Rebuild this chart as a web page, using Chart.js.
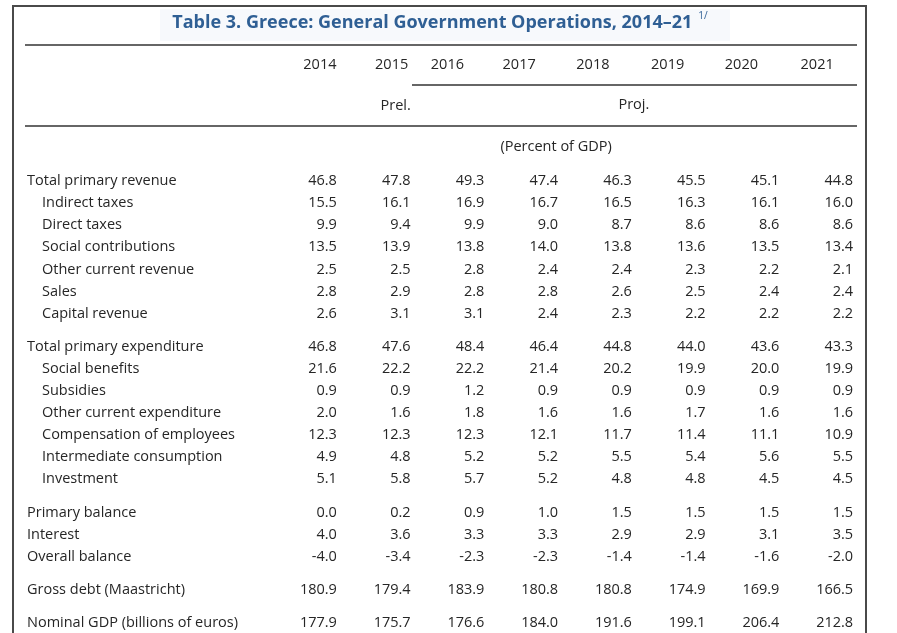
<!DOCTYPE html>
<html>
<head>
<meta charset="utf-8">
<script src="https://cdn.jsdelivr.net/npm/chart.js@4/dist/chart.umd.min.js"></script>
<style>
  html, body { margin: 0; padding: 0; background: #fff; }
  #wrap { width: 897px; height: 633px; }
</style>
</head>
<body>
<div id="wrap"><canvas id="table-chart" width="897" height="633"></canvas></div>
<script>
// column headers
const years = ['2014', '2015', '2016', '2017', '2018', '2019', '2020', '2021'];
const subHeads = ['Prel.', 'Proj.'];
const unitLabel = '(Percent of GDP)';
const titleText = 'Table 3. Greece: General Government Operations, 2014\u201321';
const titleNote = '1/';

// revenue block
const revenueLabels = ['Total primary revenue', 'Indirect taxes', 'Direct taxes', 'Social contributions',
  'Other current revenue', 'Sales', 'Capital revenue'];
const revenueValues = [
  [46.8, 47.8, 49.3, 47.4, 46.3, 45.5, 45.1, 44.8],
  [15.5, 16.1, 16.9, 16.7, 16.5, 16.3, 16.1, 16.0],
  [9.9, 9.4, 9.9, 9.0, 8.7, 8.6, 8.6, 8.6],
  [13.5, 13.9, 13.8, 14.0, 13.8, 13.6, 13.5, 13.4],
  [2.5, 2.5, 2.8, 2.4, 2.4, 2.3, 2.2, 2.1],
  [2.8, 2.9, 2.8, 2.8, 2.6, 2.5, 2.4, 2.4],
  [2.6, 3.1, 3.1, 2.4, 2.3, 2.2, 2.2, 2.2]
];

// expenditure block
const expenditureLabels = ['Total primary expenditure', 'Social benefits', 'Subsidies', 'Other current expenditure',
  'Compensation of employees', 'Intermediate consumption', 'Investment'];
const expenditureValues = [
  [46.8, 47.6, 48.4, 46.4, 44.8, 44.0, 43.6, 43.3],
  [21.6, 22.2, 22.2, 21.4, 20.2, 19.9, 20.0, 19.9],
  [0.9, 0.9, 1.2, 0.9, 0.9, 0.9, 0.9, 0.9],
  [2.0, 1.6, 1.8, 1.6, 1.6, 1.7, 1.6, 1.6],
  [12.3, 12.3, 12.3, 12.1, 11.7, 11.4, 11.1, 10.9],
  [4.9, 4.8, 5.2, 5.2, 5.5, 5.4, 5.6, 5.5],
  [5.1, 5.8, 5.7, 5.2, 4.8, 4.8, 4.5, 4.5]
];

// balances
const balanceLabels = ['Primary balance', 'Interest', 'Overall balance'];
const balanceValues = [
  [0.0, 0.2, 0.9, 1.0, 1.5, 1.5, 1.5, 1.5],
  [4.0, 3.6, 3.3, 3.3, 2.9, 2.9, 3.1, 3.5],
  [-4.0, -3.4, -2.3, -2.3, -1.4, -1.4, -1.6, -2.0]
];

const debtLabels = ['Gross debt (Maastricht)'];
const debtValues = [[180.9, 179.4, 183.9, 180.8, 180.8, 174.9, 169.9, 166.5]];

const gdpLabels = ['Nominal GDP (billions of euros)'];
const gdpValues = [[177.9, 175.7, 176.6, 184.0, 191.6, 199.1, 206.4, 212.8]];

// build rows: a half row of space between blocks
const groups = [
  { labels: revenueLabels, values: revenueValues, total: true },
  { labels: expenditureLabels, values: expenditureValues, total: true },
  { labels: balanceLabels, values: balanceValues, total: false },
  { labels: debtLabels, values: debtValues, total: false },
  { labels: gdpLabels, values: gdpValues, total: false }
];
const rows = [];
const cells = [];
let pos = 0;
groups.forEach((g) => {
  g.labels.forEach((label, i) => {
    rows.push({ label: label, y: pos, indent: g.total && i > 0 });
    g.values[i].forEach((v, j) => {
      cells.push({ x: years[j], y: pos, v: v });
    });
    pos += 1;
  });
  pos += 0.5;
});
const lastRow = pos - 1.5;

const bodyFont = '14.5px "Open Sans", sans-serif';
const ink = '#262626';

// Draw table text and rules
const tablePlugin = {
  id: 'tableText',
  afterDatasetsDraw(chart) {
    const ctx = chart.ctx;
    const xs = chart.scales.x;
    const ys = chart.scales.y;
    const colX = (i) => xs.getPixelForValue(i);
    ctx.save();

    // outer frame
    ctx.strokeStyle = '#4a4a4a';
    ctx.lineWidth = 2;
    ctx.beginPath();
    ctx.moveTo(13, 633);
    ctx.lineTo(13, 6);
    ctx.lineTo(866, 6);
    ctx.lineTo(866, 633);
    ctx.stroke();

    // title
    ctx.fillStyle = '#f7f9fc';
    ctx.fillRect(160, 9, 570, 32);
    ctx.font = 'bold 18px "Open Sans", sans-serif';
    const tw = ctx.measureText(titleText).width;
    ctx.font = '10px "Open Sans", sans-serif';
    const nw = ctx.measureText(titleNote).width;
    const tx = 440 - (tw + 6 + nw) / 2;
    ctx.fillStyle = '#2f5f94';
    ctx.textBaseline = 'middle';
    ctx.textAlign = 'left';
    ctx.font = 'bold 18px "Open Sans", sans-serif';
    ctx.fillText(titleText, tx, 23);
    ctx.font = '10px "Open Sans", sans-serif';
    ctx.fillText(titleNote, tx + tw + 6, 16);

    // rules
    ctx.strokeStyle = '#333';
    ctx.lineWidth = 1.5;
    [[25, 45, 857], [412, 85, 857], [25, 126, 857]].forEach(([x0, y, x1]) => {
      ctx.beginPath();
      ctx.moveTo(x0, y);
      ctx.lineTo(x1, y);
      ctx.stroke();
    });

    // headers
    const headShift = [-2, -4, -22, -24, -24, -23, -23, -21];
    ctx.fillStyle = ink;
    ctx.font = bodyFont;
    ctx.textAlign = 'center';
    years.forEach((yr, i) => {
      ctx.fillText(yr, colX(i) + headShift[i], 65);
    });
    ctx.fillText(subHeads[0], colX(1), 106);
    ctx.fillText(subHeads[1], colX(4) + 17, 105);
    ctx.fillText(unitLabel, colX(3) + 13, 147);

    // row labels
    ctx.textAlign = 'left';
    rows.forEach((r) => {
      ctx.fillText(r.label, r.indent ? 42 : 27, ys.getPixelForValue(r.y));
    });

    // cells from the point elements
    ctx.textAlign = 'right';
    const meta = chart.getDatasetMeta(0);
    meta.data.forEach((el, i) => {
      ctx.fillText(cells[i].v.toFixed(1), el.x + 15, el.y);
    });
    ctx.restore();
  }
};

new Chart(document.getElementById('table-chart'), {
  type: 'scatter',
  data: {
    datasets: [{
      data: cells,
      pointRadius: 0,
      pointHoverRadius: 0,
      clip: false
    }]
  },
  options: {
    responsive: false,
    animation: false,
    events: [],
    layout: { padding: { left: 285, right: 22, top: 181, bottom: 10 } },
    plugins: {
      legend: { display: false },
      title: { display: false },
      tooltip: { enabled: false }
    },
    scales: {
      x: { type: 'category', labels: years, offset: true, display: false },
      y: { type: 'linear', min: 0, max: lastRow, reverse: true, display: false }
    }
  },
  plugins: [tablePlugin]
});
</script>
</body>
</html>
